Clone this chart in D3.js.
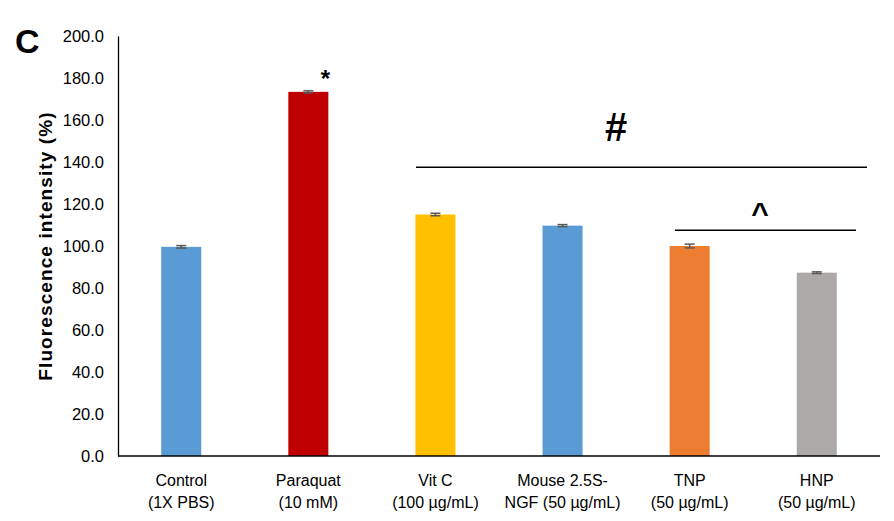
<!DOCTYPE html>
<html>
<head>
<meta charset="utf-8">
<script src="https://cdn.jsdelivr.net/npm/d3@7"></script>
<style>
  body { margin: 0; background: #fff; }
  svg text { font-family: Arial, "Liberation Sans", sans-serif; }
</style>
</head>
<body>
<svg id="chart" width="894" height="521"></svg>
<script>
// Treatment groups (two-line labels) and their measured intensities
const categories = ["Control", "Paraquat", "Vit C", "Mouse 2.5S", "TNP", "HNP"];
const labelLine1 = ["Control", "Paraquat", "Vit C", "Mouse 2.5S-", "TNP", "HNP"];
const labelLine2 = ["(1X PBS)", "(10 mM)", "(100 µg/mL)", "NGF (50 µg/mL)", "(50 µg/mL)", "(50 µg/mL)"];
const values = [99.6, 173.4, 115.0, 109.7, 100.0, 87.3];
const errors = [0.6, 0.5, 0.6, 0.5, 0.9, 0.4];
const barColors = ["#5B9BD5", "#C00000", "#FFC000", "#5B9BD5", "#ED7D31", "#ADA9A8"];
const yTicks = [0, 20, 40, 60, 80, 100, 120, 140, 160, 180, 200];

const svg = d3.select("#chart");
const m = { left: 118, right: 14, top: 36, bottom: 65 };
const W = 894, H = 521;

const x = d3.scaleBand().domain(categories).range([m.left, W - m.right]).paddingInner(0.685).paddingOuter(0.34);
const y = d3.scaleLinear().domain([0, 200]).range([H - m.bottom, m.top]);

// Bars
svg.selectAll("rect.bar").data(categories).enter().append("rect")
  .attr("class", "bar")
  .attr("x", d => x(d))
  .attr("width", x.bandwidth())
  .attr("y", (d, i) => y(values[i]))
  .attr("height", (d, i) => y(0) - y(values[i]))
  .attr("fill", (d, i) => barColors[i]);

// Error bars
const eg = svg.append("g").attr("stroke", "#595959").attr("stroke-width", 1.5);
categories.forEach((c, i) => {
  const cx = x(c) + x.bandwidth() / 2;
  eg.append("line").attr("x1", cx).attr("x2", cx).attr("y1", y(values[i] - errors[i])).attr("y2", y(values[i] + errors[i]));
  eg.append("line").attr("x1", cx - 5).attr("x2", cx + 5).attr("y1", y(values[i] + errors[i])).attr("y2", y(values[i] + errors[i]));
  eg.append("line").attr("x1", cx - 5).attr("x2", cx + 5).attr("y1", y(values[i] - errors[i])).attr("y2", y(values[i] - errors[i]));
});

// Y axis
const yAxis = d3.axisLeft(y).tickValues(yTicks).tickFormat(d3.format(".1f")).tickSize(0).tickPadding(14);
const ya = svg.append("g").attr("transform", `translate(${m.left},0)`).call(yAxis);
ya.select(".domain").attr("stroke", "#000").attr("stroke-width", 1.3);
ya.selectAll("text").attr("font-size", 16.5).attr("fill", "#000").attr("dy", "0.35em");

// X axis baseline
svg.append("line").attr("x1", m.left).attr("x2", W - m.right)
  .attr("y1", y(0)).attr("y2", y(0)).attr("stroke", "#000").attr("stroke-width", 1.3);

// X labels
categories.forEach((c, i) => {
  const cx = x(c) + x.bandwidth() / 2;
  const t = svg.append("text").attr("x", cx).attr("text-anchor", "middle").attr("font-size", 16).attr("fill", "#000");
  t.append("tspan").attr("x", cx).attr("y", 486).text(labelLine1[i]);
  t.append("tspan").attr("x", cx).attr("y", 508).text(labelLine2[i]);
});

// Y axis title
svg.append("text")
  .attr("transform", `translate(52,${(y(0) + y(200)) / 2}) rotate(-90)`)
  .attr("text-anchor", "middle").attr("font-size", 19).attr("font-weight", "bold").attr("fill", "#000")
  .attr("letter-spacing", 1.1)
  .text("Fluorescence intensity (%)");

// Panel letter
svg.append("text").attr("x", 15).attr("y", 53).attr("font-size", 34).attr("font-weight", "bold").attr("fill", "#000").text("C");

// Significance markers
const cxOf = c => x(c) + x.bandwidth() / 2;
svg.append("text").attr("x", cxOf("Paraquat") + 17).attr("y", 87).attr("text-anchor", "middle")
  .attr("font-size", 24).attr("font-weight", "bold").text("*");

svg.append("line").attr("x1", 416).attr("x2", 867).attr("y1", y(137.5)).attr("y2", y(137.5)).attr("stroke", "#000").attr("stroke-width", 1.3);
svg.append("text").attr("x", 616).attr("y", 141).attr("text-anchor", "middle")
  .attr("font-size", 40).attr("font-weight", "bold").text("#");

svg.append("line").attr("x1", 675).attr("x2", 856).attr("y1", y(107.5)).attr("y2", y(107.5)).attr("stroke", "#000").attr("stroke-width", 1.3);
svg.append("text").attr("x", 760).attr("y", 223).attr("text-anchor", "middle")
  .attr("font-size", 30).attr("font-weight", "bold").text("^");
</script>
</body>
</html>
